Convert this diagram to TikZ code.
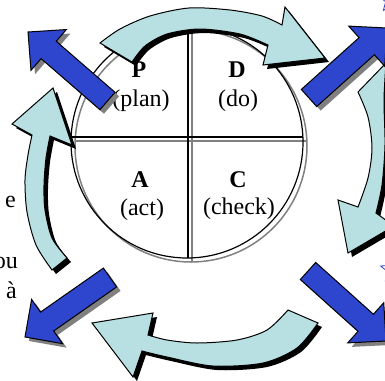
\documentclass[tikz,border=0pt]{standalone}
\usepackage{fontspec}
\setmainfont{Liberation Serif}
\usetikzlibrary{calc,shapes.geometric}
\definecolor{lightcyanA}{RGB}{184,224,226}
\definecolor{darkblueA}{RGB}{46,70,205}
\definecolor{shadowgrayA}{RGB}{128,128,128}
\newcommand{\dbpath}[1]{($(#1T)!11.5pt!90:(#1P)$) -- ($(#1B)!11.5pt!90:(#1P)$) -- ($(#1B)!27pt!90:(#1P)$) -- (#1P) -- ($(#1B)!27pt!-90:(#1P)$) -- ($(#1B)!11.5pt!-90:(#1P)$) -- ($(#1T)!11.5pt!-90:(#1P)$) -- cycle}
\newcommand{\toparrowpath}{(100,43) -- plot[smooth] coordinates {(100,43) (120,29) (150,16) (189,8) (230,10) (262,16) (282,25)} -- (285,7) -- (325,58) -- (263,65) -- plot[smooth] coordinates {(268,45) (240,34) (200,29) (167,34) (145,46) (132,62)} -- cycle}
\newcommand{\rightarrowpath}{(358,92) -- (386,63) -- plot[smooth] coordinates {(386,63) (384,100) (385,145) (382,185) (376,213)} -- (394,226) -- (348,253) -- (338,200) -- plot[smooth] coordinates {(358,207) (368,178) (372,148) (368,117) (358,92)} -- cycle}
\newcommand{\bottomarrowpath}{(288,310) -- plot[smooth] coordinates {(288,310) (267,330) (237,340) (197,343) (167,340) (148,335)} -- (153,313) -- (92,323) -- (133,377) -- plot[smooth] coordinates {(142,351) (167,357) (213,366) (263,363) (297,348) (318,323)} -- cycle}
\newcommand{\leftarrowpath}{(52,270) -- plot[smooth] coordinates {(52,270) (36,245) (27,212) (25,180) (28,155) (32,135)} -- (12,124) -- (53,88) -- (72,145) -- plot[smooth] coordinates {(50,136) (46,158) (44,185) (45,210) (52,238) (67,258)} -- cycle}
\begin{document}
\begin{tikzpicture}[x=1pt,y=-1pt,
  lbarrow/.style={fill=lightcyanA, draw=black, line width=1pt, line join=miter},
  dbarrow/.style={fill=darkblueA, draw=black, line width=1pt, line join=miter},
  lbl/.style={font=\fontsize{24}{28}\selectfont, inner sep=0pt},
  starfrag/.style={star, star points=5, star point ratio=2.3, draw=darkblueA, line width=0.8pt, minimum size=26pt, inner sep=0pt}]
\useasboundingbox (0,0) rectangle (385,380);
\clip (0,0) rectangle (385,380);
% circle with shadow
\begin{scope}[transform canvas={xshift=4pt,yshift=-4pt}]
  \draw[shadowgrayA, line width=1.5pt] (187,142) circle[radius=116];
  \draw[shadowgrayA, line width=1.5pt] (71,137) -- (303,137) (188,26) -- (188,258);
\end{scope}
\draw[black, line width=1.2pt] (187,142) circle[radius=116];
\draw[black, line width=1.2pt] (71,137) -- (303,137) (188,26) -- (188,258);
% labels
\node[lbl] (p) at (139,70) {\textbf{P}};
\node[lbl] (plan) at (141,101) {(plan)};
\node[lbl] (d) at (237,70) {\textbf{D}};
\node[lbl] (do) at (238,101) {(do)};
\node[lbl] (a) at (140,180) {\textbf{A}};
\node[lbl] (act) at (142,210) {(act)};
\node[lbl] (c) at (238,180) {\textbf{C}};
\node[lbl] (check) at (239,209) {(check)};
\node[lbl, anchor=base east] (e) at (16,207) {e};
\node[lbl, anchor=base east] (ou) at (18,268) {ou};
\node[lbl, anchor=base east] (agr) at (17,298) {à};
% light blue curved arrows
\begin{scope}[transform canvas={xshift=4pt,yshift=-4pt}]
  \fill[black] \toparrowpath;
  \fill[black] \rightarrowpath;
  \fill[black] \bottomarrowpath;
  \fill[black] \leftarrowpath;
\end{scope}
\path[lbarrow] \toparrowpath;
\path[lbarrow] \rightarrowpath;
\path[lbarrow] \bottomarrowpath;
\path[lbarrow] \leftarrowpath;
% dark blue straight arrows
\coordinate (ulT) at (107.5,101); \coordinate (ulP) at (28,32);
\coordinate (urT) at (309,98);    \coordinate (urP) at (387,28);
\coordinate (llT) at (110,277.5); \coordinate (llP) at (25,337);
\coordinate (lrT) at (308,271);   \coordinate (lrP) at (386,341);
\coordinate (ulB) at ($(ulT)!0.74!(ulP)$);
\coordinate (urB) at ($(urT)!0.74!(urP)$);
\coordinate (llB) at ($(llT)!0.74!(llP)$);
\coordinate (lrB) at ($(lrT)!0.74!(lrP)$);
\begin{scope}[transform canvas={xshift=4pt,yshift=-4pt}]
  \fill[shadowgrayA] \dbpath{ul};
  \fill[shadowgrayA] \dbpath{ur};
  \fill[shadowgrayA] \dbpath{ll};
  \fill[shadowgrayA] \dbpath{lr};
\end{scope}
\path[dbarrow] \dbpath{ul};
\path[dbarrow] \dbpath{ur};
\path[dbarrow] \dbpath{ll};
\path[dbarrow] \dbpath{lr};
% star fragments at the right edge
\node[starfrag] (s1) at (391,0) {};
\node[starfrag] (s2) at (393,270) {};
\end{tikzpicture}
\end{document}
